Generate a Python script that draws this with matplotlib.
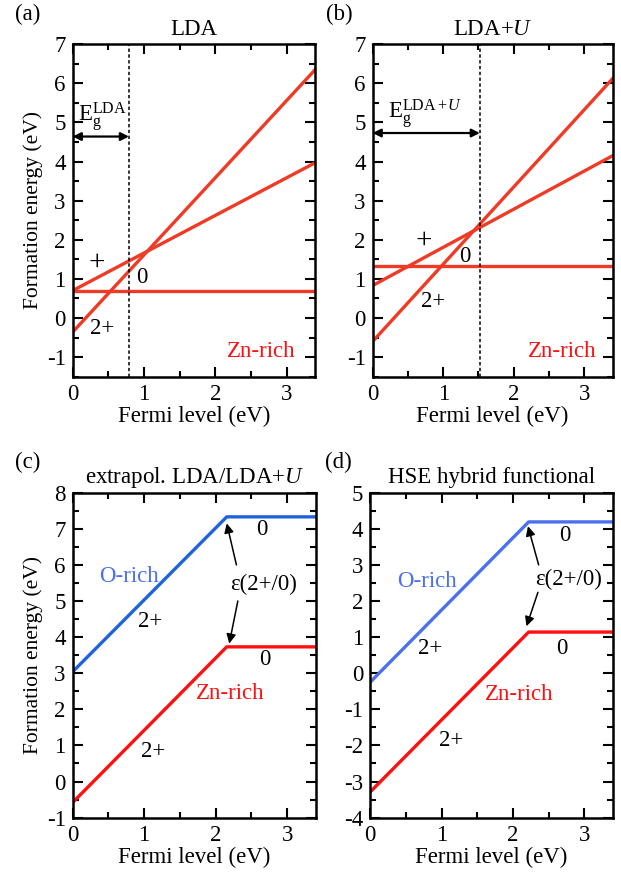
import matplotlib
matplotlib.use('Agg')
import matplotlib.pyplot as plt
from matplotlib.ticker import MultipleLocator

plt.rcParams['font.family'] = ['Liberation Serif', 'DejaVu Serif']
plt.rcParams['mathtext.fontset'] = 'custom'
plt.rcParams['mathtext.rm'] = 'Liberation Serif'
plt.rcParams['mathtext.it'] = 'Liberation Serif:italic'
plt.rcParams['font.size'] = 16.5

# Fermi level range (band gap of ZnO)
xRange = [0, 3.4]

# (a) LDA: formation energy at the two ends of the Fermi-level range
ldaZero = [0.68, 0.68]
ldaPlus = [0.70, 3.97]
ldaTwoPlus = [-0.36, 6.35]
ldaGap = 0.79

# (b) LDA+U
ldauZero = [1.34, 1.34]
ldauPlus = [0.83, 4.15]
ldauTwoPlus = [-0.60, 6.12]
ldauGap = 1.52

# (c) extrapolated LDA/LDA+U: start, kink, end
extrapX = [0, 2.155, 3.4]
extrapOrich = [3.04, 7.33, 7.33]
extrapZnrich = [-0.58, 3.73, 3.73]

# (d) HSE hybrid functional
hseX = [0, 2.22, 3.4]
hseOrich = [-0.25, 4.19, 4.19]
hseZnrich = [-3.29, 1.14, 1.14]

lineRed = '#ef3b25'
pureRed = '#ff0f0f'
lineBlue = '#1f62e0'
textBlue = '#4a70f0'
FS = 16.5

fig = plt.figure(figsize=(6.21, 8.76), dpi=100)
axA = fig.add_axes([0.117, 0.570, 0.3905, 0.3795])
axB = fig.add_axes([0.600, 0.570, 0.3865, 0.3795])
axC = fig.add_axes([0.117, 0.0666, 0.3915, 0.371])
axD = fig.add_axes([0.596, 0.0666, 0.391, 0.371])


def style_axes(ax, ylo, yhi):
    ax.set_xlim(xRange)
    ax.set_ylim(ylo, yhi)
    ax.xaxis.set_major_locator(MultipleLocator(1))
    ax.xaxis.set_minor_locator(MultipleLocator(0.5))
    ax.yaxis.set_major_locator(MultipleLocator(1))
    ax.yaxis.set_minor_locator(MultipleLocator(0.5))
    ax.tick_params(which='both', direction='in', top=True, right=True, width=1.5, labelsize=FS)
    ax.tick_params(which='major', length=7, pad=5)
    ax.tick_params(which='minor', length=4)
    for s in ax.spines.values():
        s.set_linewidth(1.8)
    ax.set_xlabel('Fermi level (eV)', fontsize=FS, labelpad=1)
    # tick labels like "-1" with a plain hyphen
    ax.yaxis.set_major_formatter(plt.FuncFormatter(lambda v, p: '%d' % v))
    ax.xaxis.set_major_formatter(plt.FuncFormatter(lambda v, p: '%d' % v))


def gap_arrow(ax, gap, yArrow, label, lx, ly):
    ax.axvline(gap, color='black', lw=1.1, linestyle=(0, (2.2, 1.6)))
    ax.annotate('', xy=(gap, yArrow), xytext=(0, yArrow),
                arrowprops=dict(arrowstyle='<|-|>', color='black', lw=1.6,
                                mutation_scale=12, shrinkA=0, shrinkB=0))
    ax.text(lx, ly, label, fontsize=FS, ha='left', va='baseline')


def eps_arrow(ax, tip, tail):
    ax.annotate('', xy=tip, xytext=tail,
                arrowprops=dict(arrowstyle='-|>', color='black', lw=1.1, mutation_scale=14,
                                shrinkA=0, shrinkB=0))


# (a) LDA
style_axes(axA, -1.5, 7)
axA.plot(xRange, ldaZero, color=lineRed, lw=2.4)
axA.plot(xRange, ldaPlus, color=lineRed, lw=2.4)
axA.plot(xRange, ldaTwoPlus, color=lineRed, lw=2.4)
gap_arrow(axA, ldaGap, 4.64, r'$\mathrm{E_g^{LDA}}$', 0.07, 5.0)
axA.text(0.33, 1.41, '+', fontsize=21, ha='center', va='center')
axA.text(0.975, 1.03, '0', ha='center', va='center')
axA.text(0.42, -0.26, '2+', ha='center', va='center')
axA.text(2.65, -0.85, 'Zn-rich', color=pureRed, ha='center', va='center')
axA.set_ylabel('Formation energy (eV)', fontsize=15.5, labelpad=3)
axA.set_title('LDA', fontsize=FS, pad=7)
fig.text(0.045, 0.983, '(a)', fontsize=FS, ha='center', va='center')

# (b) LDA+U
style_axes(axB, -1.5, 7)
axB.plot(xRange, ldauZero, color=lineRed, lw=2.4)
axB.plot(xRange, ldauPlus, color=lineRed, lw=2.4)
axB.plot(xRange, ldauTwoPlus, color=lineRed, lw=2.4)
gap_arrow(axB, ldauGap, 4.73, r'$\mathrm{E_g^{LDA+}}^{\!\mathit{U}}$', 0.22, 5.1)
axB.text(0.72, 1.98, '+', fontsize=21, ha='center', va='center')
axB.text(1.31, 1.58, '0', ha='center', va='center')
axB.text(0.86, 0.43, '2+', ha='center', va='center')
axB.text(2.68, -0.85, 'Zn-rich', color=pureRed, ha='center', va='center')
axB.set_title(r'LDA+$U$', fontsize=FS, pad=7)
fig.text(0.546, 0.983, '(b)', fontsize=FS, ha='center', va='center')

# (c) extrapolated LDA/LDA+U
style_axes(axC, -1, 8)
axC.plot(extrapX, extrapOrich, color=lineBlue, lw=2.4)
axC.plot(extrapX, extrapZnrich, color=pureRed, lw=2.4)
axC.text(2.64, 6.99, '0', ha='center', va='center')
axC.text(2.69, 3.38, '0', ha='center', va='center')
axC.text(0.79, 5.69, 'O-rich', color=textBlue, ha='center', va='center')
axC.text(2.2, 2.43, 'Zn-rich', color=pureRed, ha='center', va='center')
axC.text(1.09, 4.44, '2+', ha='center', va='center')
axC.text(1.12, 0.83, '2+', ha='center', va='center')
axC.text(2.67, 5.46, '\u03b5(2+/0)', ha='center', va='center')
eps_arrow(axC, (2.155, 7.15), (2.29, 6.0))
eps_arrow(axC, (2.19, 3.82), (2.31, 5.0))
axC.set_ylabel('Formation energy (eV)', fontsize=15.5, labelpad=3)
axC.set_title(r'extrapol. LDA/LDA+$U$', fontsize=FS, pad=7)
fig.text(0.045, 0.472, '(c)', fontsize=FS, ha='center', va='center')

# (d) HSE hybrid functional
style_axes(axD, -4, 5)
axD.plot(hseX, hseOrich, color=textBlue, lw=2.4)
axD.plot(hseX, hseZnrich, color=pureRed, lw=2.4)
axD.text(2.73, 3.81, '0', ha='center', va='center')
axD.text(2.69, 0.69, '0', ha='center', va='center')
axD.text(0.79, 2.55, 'O-rich', color=textBlue, ha='center', va='center')
axD.text(2.09, -0.58, 'Zn-rich', color=pureRed, ha='center', va='center')
axD.text(0.84, 0.69, '2+', ha='center', va='center')
axD.text(1.13, -1.85, '2+', ha='center', va='center')
axD.text(2.78, 2.59, '\u03b5(2+/0)', ha='center', va='center')
eps_arrow(axD, (2.21, 4.07), (2.36, 3.0))
eps_arrow(axD, (2.19, 1.3), (2.35, 2.24))
axD.set_title('HSE hybrid functional', fontsize=FS, pad=7)
fig.text(0.545, 0.472, '(d)', fontsize=FS, ha='center', va='center')

fig.savefig('out.png', dpi=100)
